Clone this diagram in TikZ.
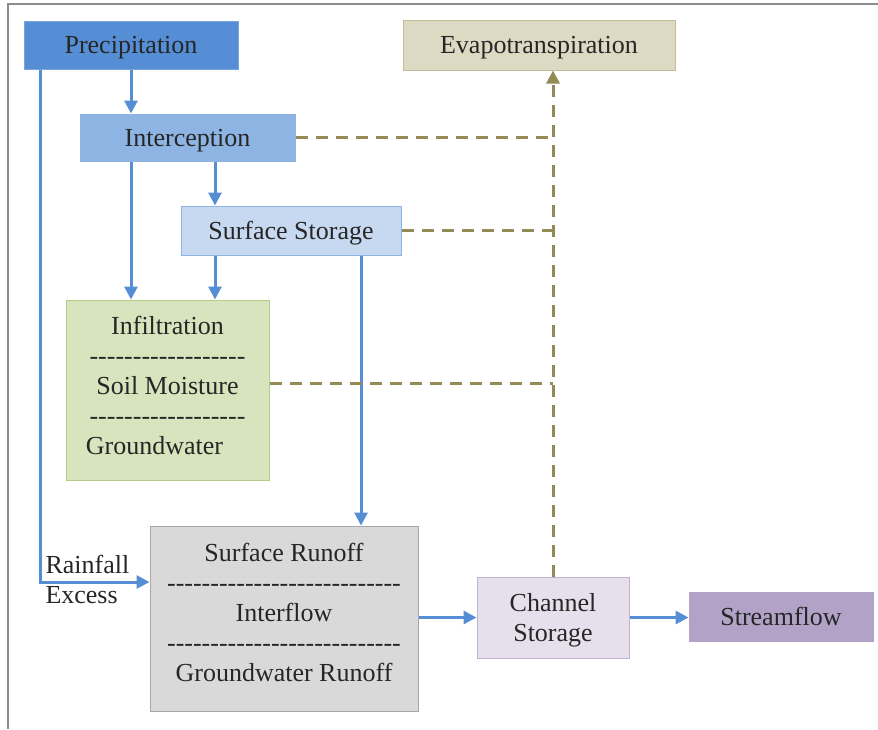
\documentclass[tikz,border=0pt]{standalone}
\usepackage{fontspec}
\setmainfont{Liberation Serif}
\usetikzlibrary{arrows.meta}
\definecolor{precblue}{HTML}{558ED5}
\definecolor{intblue}{HTML}{8EB4E3}
\definecolor{storblue}{HTML}{C6D9F1}
\definecolor{soilgreen}{HTML}{D7E4BD}
\definecolor{soilline}{HTML}{B5CC8A}
\definecolor{rungrey}{HTML}{D9D9D9}
\definecolor{chanlilac}{HTML}{E6E0EC}
\definecolor{lilacline}{HTML}{C0B2D2}
\definecolor{streamlilac}{HTML}{B3A2C7}
\definecolor{evaptan}{HTML}{DDD9C3}
\definecolor{evapline}{HTML}{C4BD97}
\definecolor{olive}{HTML}{948A54}
% a row of single hyphens, kept apart so they do not join into dashes
\newcommand\hyrow[1]{\foreach \k in {1,...,#1}{-\kern0pt}}
\begin{document}
\begin{tikzpicture}[x=1pt,y=-1pt,
    box/.style={draw,line width=1pt,inner sep=0pt,align=center,text=black!85,
      text depth=0pt,font=\fontsize{26}{30}\selectfont},
    flow/.style={draw=precblue,line width=3pt,-{Triangle[length=13pt,width=13pt]}},
    vapour/.style={draw=olive,line width=3pt,dash pattern=on 12pt off 8pt}]
  \useasboundingbox (0,0) rectangle (878,729);
  \draw[black!45,line width=1.5pt] (8,729) -- (8,4) -- (878,4);
  \node[box,fill=precblue,draw=precblue!80,minimum width=214pt,minimum height=48pt] (prec) at (131,45) {Precipitation};
  \node[box,fill=evaptan,draw=evapline,minimum width=272pt,minimum height=50pt] (evap) at (539,45) {Evapotranspiration};
  \node[box,fill=intblue,draw=intblue,minimum width=215pt,minimum height=47pt] (interc) at (187.5,137.5) {Interception};
  \node[box,fill=storblue,draw=intblue,minimum width=220pt,minimum height=49pt] (stor) at (291,230.5) {Surface Storage};
  \node[box,fill=soilgreen,draw=soilline,minimum width=203pt,minimum height=180pt,text depth=9pt] (infil) at (167.5,390)
    {Infiltration\\\hyrow{18}\\Soil Moisture\\\hyrow{18}\\Groundwater\hspace*{1em}};
  \node[box,fill=rungrey,draw=black!35,minimum width=268pt,minimum height=185pt,text depth=12pt] (runoff) at (284,618.5)
    {Surface Runoff\\\hyrow{27}\\Interflow\\\hyrow{27}\\Groundwater Runoff};
  \node[box,fill=chanlilac,draw=lilacline,minimum width=152pt,minimum height=81pt] (chan) at (553,617.5) {Channel\\Storage};
  \node[box,fill=streamlilac,draw=streamlilac,minimum width=184pt,minimum height=49pt] (stream) at (781,616.5) {Streamflow};
  \node[box,draw=none,anchor=west,align=left,text depth=] (excess) at (45,579) {Rainfall\\Excess};
  \coordinate (xl) at (40,582);
  \coordinate (xa) at (215,0);
  \coordinate (xb) at (361,0);
  % runoff paths
  \begin{scope}
    \draw[flow] (prec.south) -- (prec.south |- interc.north);
    \draw[flow] (prec.south -| xl) -- (xl) -- (xl -| runoff.west);
    \draw[flow] (interc.south -| prec.south) -- (infil.north -| prec.south);
    \draw[flow] (interc.south -| xa) -- (stor.north -| xa);
    \draw[flow] (stor.south -| xa) -- (infil.north -| xa);
    \draw[flow] (stor.south -| xb) -- (runoff.north -| xb);
    \draw[flow] (runoff.east |- chan.west) -- (chan.west);
    \draw[flow] (chan.east) -- (stream.west |- chan.east);
  \end{scope}
  % losses to the atmosphere
  \begin{scope}
    \draw[vapour,-{Triangle[length=13pt,width=13pt]}] (chan.north) -- (chan.north |- evap.south);
    \draw[vapour] (interc.east) -- (interc.east -| chan.north);
    \draw[vapour] (stor.east) -- (stor.east -| chan.north);
    \draw[vapour] ([yshift=7pt]infil.east) -- ([yshift=7pt]infil.east -| chan.north);
  \end{scope}
\end{tikzpicture}
\end{document}
